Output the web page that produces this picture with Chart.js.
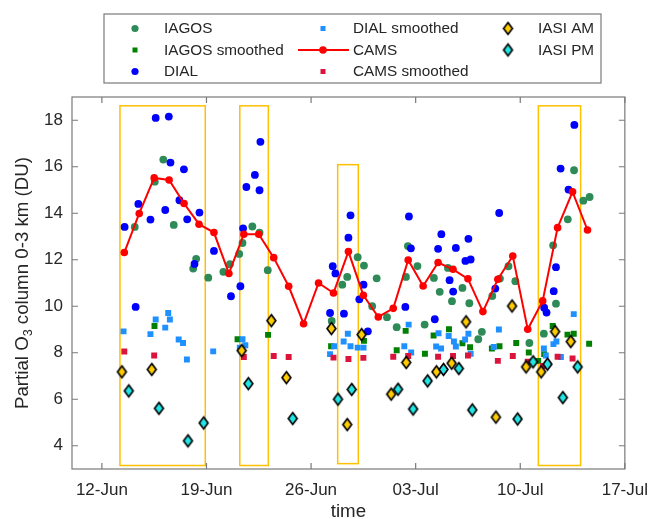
<!DOCTYPE html>
<html>
<head>
<meta charset="utf-8">
<script src="https://cdn.jsdelivr.net/npm/chart.js@4.4.1/dist/chart.umd.min.js"></script>
<style>
  html, body { margin: 0; padding: 0; background: #fff; }
  #wrap { width: 659px; height: 519px; }
</style>
</head>
<body>
<div id="wrap"><canvas id="c" width="659" height="519"></canvas></div>
<script>
// Time axis: day of June (1 July = 31). Ozone partial column 0-3 km in DU.
const xTickDays = [12, 19, 26, 33, 40, 47];
const xTickLabels = ['12-Jun', '19-Jun', '26-Jun', '03-Jul', '10-Jul', '17-Jul'];
const yTickValues = [4, 6, 8, 10, 12, 14, 16, 18];

// Periods of interest (start/end day, top/bottom DU)
const zoneStart  = [13.21, 21.23, 27.78, 41.21];
const zoneEnd    = [18.92, 23.14, 29.16, 44.04];
const zoneTop    = [18.62, 18.62, 16.09, 18.62];
const zoneBottom = [3.15, 3.15, 3.23, 3.15];

const iagos = [
  [14.20,13.41],[15.54,15.36],[16.11,16.31],[16.81,13.50],[18.11,11.62],[18.31,12.04],[19.12,11.23],
  [20.13,11.48],[20.57,11.81],[21.19,12.25],[21.41,12.72],[22.07,13.43],[22.55,13.17],[23.10,11.55],
  [27.38,9.37],[28.09,10.93],[28.42,11.26],[29.12,12.11],[29.54,11.75],[30.09,10.00],[30.39,11.20],
  [31.08,9.53],[31.73,9.10],[32.35,11.26],[32.48,12.59],[33.12,11.73],[33.60,9.21],[34.22,11.22],
  [34.61,10.62],[35.16,11.65],[35.43,10.22],[36.13,10.79],[36.59,10.13],[37.19,8.58],[37.43,8.90],
  [38.13,10.44],[38.64,11.19],[39.21,11.72],[39.67,11.08],[40.61,8.42],[41.58,8.82],[42.20,12.62],
  [42.39,10.11],[43.18,13.74],[43.60,15.85],[44.22,14.54],[44.64,14.70]
];
const iagosSmoothed = [
  [15.52,9.15],[21.08,8.58],[23.12,8.77],[27.34,8.28],[29.54,8.51],[31.73,8.11],[32.33,8.94],
  [33.62,7.96],[34.20,8.74],[35.23,9.01],[36.13,8.41],[36.64,8.24],[38.10,8.18],[38.61,8.28],
  [39.73,8.42],[40.57,8.01],[41.20,7.65],[41.60,7.94],[42.17,9.15],[43.16,8.78],[43.58,8.82],[44.61,8.39]
];
const dial = [
  [13.52,13.41],[14.26,9.97],[14.44,14.40],[15.25,13.73],[15.60,18.10],[16.24,14.14],[16.48,18.16],
  [16.59,16.18],[17.19,14.56],[17.49,15.89],[17.71,13.74],[18.20,11.82],[18.53,14.03],[19.50,12.38],
  [20.64,10.43],[21.27,10.86],[21.45,13.35],[21.67,15.13],[22.24,15.65],[22.55,14.99],[22.61,17.07],
  [27.27,9.71],[27.45,11.72],[27.63,11.41],[28.20,9.68],[28.50,12.95],[28.64,13.91],[29.23,10.30],
  [29.51,10.93],[29.80,8.92],[32.31,9.97],[32.55,13.86],[32.68,12.49],[34.28,9.44],[34.50,12.47],
  [34.72,13.10],[35.27,11.12],[35.51,10.63],[35.69,12.51],[36.33,11.95],[36.53,12.90],[36.68,12.01],
  [38.33,10.76],[38.59,14.01],[41.60,9.94],[41.76,9.73],[42.24,10.65],[42.39,11.68],[42.70,15.92],
  [43.23,15.02],[43.62,17.80]
];
const dialSmoothed = [
  [13.45,8.92],[15.25,8.80],[15.60,9.43],[16.24,9.08],[16.44,9.71],[16.55,9.43],[17.14,8.57],
  [17.43,8.42],[17.69,7.71],[19.45,8.06],[21.23,8.22],[21.41,8.58],[21.60,8.32],[27.27,7.94],
  [27.54,8.28],[28.18,8.48],[28.46,8.82],[28.64,8.28],[29.12,8.22],[29.51,8.22],[32.24,8.28],
  [32.53,9.21],[32.70,8.01],[34.37,8.27],[34.53,8.84],[34.70,8.18],[35.21,8.72],[35.56,8.48],
  [35.69,8.27],[36.31,8.57],[36.53,8.82],[36.68,7.96],[38.22,8.25],[38.57,9.00],[41.58,8.18],
  [41.71,7.88],[42.22,8.37],[42.42,8.48],[42.72,7.82],[43.58,9.66]
];
const cams = [
  [13.5,12.31],[14.5,13.99],[15.5,15.52],[16.5,15.43],[17.5,14.42],[18.5,13.53],[19.5,13.17],
  [20.5,11.41],[21.5,13.10],[22.5,13.10],[23.5,12.09],[24.5,10.86],[25.5,9.25],[26.5,11.00],
  [27.5,10.57],[28.5,12.35],[29.5,10.47],[30.5,9.54],[31.5,9.91],[32.5,11.99],[33.5,10.87],
  [34.5,11.88],[35.5,11.59],[36.5,11.18],[37.5,9.77],[38.5,11.16],[39.5,12.16],[40.5,9.01],
  [41.5,10.23],[42.5,13.38],[43.5,14.92],[44.5,13.28]
];
const camsSmoothed = [
  [13.5,8.05],[15.5,7.88],[21.5,7.82],[23.5,7.86],[24.5,7.82],[27.5,7.79],[28.5,7.73],[29.5,7.78],
  [31.5,7.83],[32.5,7.86],[34.5,7.83],[35.5,7.86],[36.5,7.88],[38.5,7.65],[39.5,7.86],[40.5,7.61],
  [41.5,7.43],[42.5,7.83],[43.5,7.75]
];
const iasiAM = [
  [13.34,7.18],[15.34,7.28],[21.36,8.09],[23.34,9.38],[24.35,6.93],[27.36,9.04],[28.42,4.91],
  [29.38,8.78],[31.36,6.22],[32.37,7.58],[34.39,7.18],[35.41,7.55],[36.37,9.33],[38.37,5.23],
  [39.45,10.01],[40.39,7.39],[41.40,7.18],[42.33,8.91],[43.38,8.48]
];
const iasiPM = [
  [13.80,6.36],[15.82,5.61],[17.76,4.21],[18.81,4.98],[21.80,6.67],[24.77,5.17],[27.80,6.00],
  [28.72,6.42],[31.82,6.43],[32.83,5.58],[33.80,6.79],[34.86,7.28],[35.89,7.32],[36.79,5.54],
  [39.82,5.15],[40.86,7.61],[41.82,7.51],[42.85,6.07],[43.84,7.39]
];

const FONT = "'Liberation Sans', Arial, Helvetica, sans-serif";
const TEXT = '#262626';

// Outlined diamond marker used for the IASI series
function diamondMarker(fill) {
  const c = document.createElement('canvas');
  c.width = 13; c.height = 17;
  const g = c.getContext('2d');
  g.beginPath();
  g.moveTo(6.5, 2.6); g.lineTo(10.9, 8.5); g.lineTo(6.5, 14.4); g.lineTo(2.1, 8.5);
  g.closePath();
  g.fillStyle = fill; g.fill();
  g.lineWidth = 1.7; g.strokeStyle = '#000'; g.lineJoin = 'miter'; g.stroke();
  return c;
}
const amMarker = diamondMarker('#FFCC00');
const pmMarker = diamondMarker('#22E6E6');

const pts = arr => arr.map(([x, y]) => ({ x, y }));

const series = [
  { label: 'IAGOS', data: iagos, kind: 'circle', color: '#2E8B57', r: 3.9 },
  { label: 'IAGOS smoothed', data: iagosSmoothed, kind: 'rect', color: '#008000', r: 4.2 },
  { label: 'DIAL', data: dial, kind: 'circle', color: '#0000FF', r: 3.9 },
  { label: 'DIAL smoothed', data: dialSmoothed, kind: 'rect', color: '#1E90FF', r: 4.2 },
  { label: 'CAMS', data: cams, kind: 'line', color: '#FF0000', r: 3.8 },
  { label: 'CAMS smoothed', data: camsSmoothed, kind: 'rect', color: '#DC143C', r: 4.2 },
  { label: 'IASI AM', data: iasiAM, kind: 'diamond', img: amMarker },
  { label: 'IASI PM', data: iasiPM, kind: 'diamond', img: pmMarker }
];

const datasets = series.map((s, i) => {
  const ds = {
    label: s.label,
    data: pts(s.data),
    order: series.length - 1 - i,
    pointBorderWidth: 0,
    showLine: false
  };
  if (s.kind === 'diamond') {
    ds.pointStyle = s.img;
    ds.pointRadius = 6;
  } else {
    ds.pointStyle = s.kind === 'rect' ? 'rect' : 'circle';
    ds.pointRadius = s.r;
    ds.pointBackgroundColor = s.color;
    ds.pointBorderColor = s.color;
  }
  if (s.kind === 'line') {
    ds.showLine = true;
    ds.borderColor = s.color;
    ds.borderWidth = 2;
    ds.pointStyle = 'circle';
  }
  return ds;
});

// Legend layout (three columns)
const legendBox = { left: 104, top: 14, right: 601, bottom: 83 };
const legendMarkerX = [135, 323, 508];
const legendTextX = [164, 353, 538];
const legendRowY = [28.5, 50, 71.5];
const legendColumns = [[0, 1, 2], [3, 4, 5], [6, 7]];

const decorations = {
  id: 'decorations',
  beforeDatasetsDraw(chart) {
    const { ctx, scales: { x, y } } = chart;
    ctx.save();
    ctx.strokeStyle = '#FFC000';
    ctx.lineWidth = 1.5;
    zoneStart.forEach((s, i) => {
      const x0 = x.getPixelForValue(s), x1 = x.getPixelForValue(zoneEnd[i]);
      const y0 = y.getPixelForValue(zoneTop[i]), y1 = y.getPixelForValue(zoneBottom[i]);
      ctx.strokeRect(x0, y0, x1 - x0, y1 - y0);
    });
    ctx.restore();
  },
  afterDraw(chart) {
    const { ctx, chartArea: a, scales: { x, y } } = chart;
    ctx.save();
    // axes box with inward ticks
    ctx.strokeStyle = '#7A7A7A';
    ctx.lineWidth = 1.2;
    ctx.strokeRect(a.left, a.top, a.right - a.left, a.bottom - a.top);
    const tl = 6;
    ctx.beginPath();
    xTickDays.forEach(d => {
      const px = x.getPixelForValue(d);
      ctx.moveTo(px, a.bottom); ctx.lineTo(px, a.bottom - tl);
      ctx.moveTo(px, a.top); ctx.lineTo(px, a.top + tl);
    });
    yTickValues.forEach(v => {
      const py = y.getPixelForValue(v);
      ctx.moveTo(a.left, py); ctx.lineTo(a.left + tl, py);
      ctx.moveTo(a.right, py); ctx.lineTo(a.right - tl, py);
    });
    ctx.stroke();

    // axis titles
    ctx.fillStyle = TEXT;
    ctx.font = `18.7px ${FONT}`;
    ctx.textAlign = 'center';
    ctx.textBaseline = 'alphabetic';
    ctx.fillText('time', (a.left + a.right) / 2, 517);

    const p1 = 'Partial O', p2 = '3', p3 = ' column 0-3 km (DU)';
    const big = `18.7px ${FONT}`, small = `12.5px ${FONT}`;
    ctx.font = big; const w1 = ctx.measureText(p1).width, w3 = ctx.measureText(p3).width;
    ctx.font = small; const w2 = ctx.measureText(p2).width;
    const total = w1 + w2 + w3;
    ctx.translate(28, (a.top + a.bottom) / 2);
    ctx.rotate(-Math.PI / 2);
    ctx.textAlign = 'left';
    let cx = -total / 2;
    ctx.font = big; ctx.fillText(p1, cx, 0); cx += w1;
    ctx.font = small; ctx.fillText(p2, cx, 4); cx += w2;
    ctx.font = big; ctx.fillText(p3, cx, 0);
    ctx.restore();

    // legend
    ctx.save();
    ctx.fillStyle = '#fff';
    ctx.fillRect(legendBox.left, legendBox.top, legendBox.right - legendBox.left, legendBox.bottom - legendBox.top);
    ctx.strokeStyle = '#7A7A7A';
    ctx.lineWidth = 1.2;
    ctx.strokeRect(legendBox.left, legendBox.top, legendBox.right - legendBox.left, legendBox.bottom - legendBox.top);
    ctx.font = `15.3px ${FONT}`;
    ctx.textBaseline = 'middle';
    ctx.textAlign = 'left';
    legendColumns.forEach((col, ci) => {
      col.forEach((si, ri) => {
        const s = series[si];
        const mx = legendMarkerX[ci], my = legendRowY[ri];
        if (s.kind === 'circle') {
          ctx.fillStyle = s.color;
          ctx.beginPath(); ctx.arc(mx, my, 3.6, 0, Math.PI * 2); ctx.fill();
        } else if (s.kind === 'rect') {
          ctx.fillStyle = s.color;
          ctx.fillRect(mx - 2.5, my - 2.5, 5, 5);
        } else if (s.kind === 'line') {
          ctx.strokeStyle = s.color; ctx.lineWidth = 2;
          ctx.beginPath(); ctx.moveTo(mx - 25, my); ctx.lineTo(mx + 26, my); ctx.stroke();
          ctx.fillStyle = s.color;
          ctx.beginPath(); ctx.arc(mx, my, 3.8, 0, Math.PI * 2); ctx.fill();
        } else {
          ctx.drawImage(s.img, mx - s.img.width / 2, my - s.img.height / 2);
        }
        ctx.fillStyle = TEXT;
        ctx.fillText(s.label, legendTextX[ci], my + 0.5);
      });
    });
    ctx.restore();
  }
};

new Chart(document.getElementById('c'), {
  type: 'scatter',
  data: { datasets },
  options: {
    responsive: false,
    devicePixelRatio: 1,
    animation: false,
    layout: { padding: { top: 97, right: 26, left: 0, bottom: 0 } },
    plugins: { legend: { display: false }, tooltip: { enabled: false } },
    scales: {
      x: {
        type: 'linear',
        min: 10, max: 47,
        grid: { display: false, drawTicks: false },
        border: { display: false },
        afterBuildTicks: s => { s.ticks = xTickDays.map(v => ({ value: v })); },
        afterFit: s => { s.height = 50; },
        ticks: {
          autoSkip: false, maxRotation: 0, padding: 11,
          color: TEXT, font: { family: FONT, size: 17 },
          callback: (v, i) => xTickLabels[i]
        }
      },
      y: {
        type: 'linear',
        min: 3, max: 19,
        grid: { display: false, drawTicks: false },
        border: { display: false },
        afterBuildTicks: s => { s.ticks = yTickValues.map(v => ({ value: v })); },
        afterFit: s => { s.width = 72; },
        ticks: {
          padding: 9,
          color: TEXT, font: { family: FONT, size: 17 },
          callback: v => String(v)
        }
      }
    }
  },
  plugins: [decorations]
});
</script>
</body>
</html>
